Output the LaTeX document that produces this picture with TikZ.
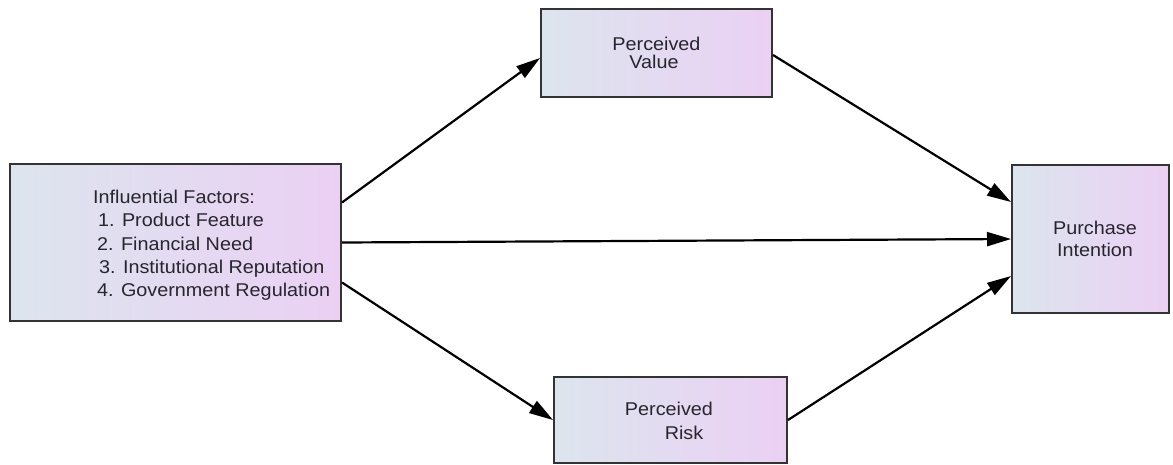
\documentclass[tikz,border=0pt]{standalone}
\usepackage{fontspec}
\newfontfamily\diagfont{Liberation Sans}[FakeStretch=1.07]
\usetikzlibrary{arrows.meta}
\definecolor{boxleft}{HTML}{DCE5EE}
\definecolor{boxright}{HTML}{EBD0F4}
\definecolor{edgegray}{HTML}{333333}
\definecolor{txtgray}{HTML}{26262C}
\tikzset{
  factorbox/.style={rectangle, draw=edgegray, line width=2pt, inner sep=0pt,
    left color=boxleft, right color=boxright},
  lbl/.style={inner sep=0pt, text=txtgray, font=\diagfont\fontsize{18.5}{20}\selectfont},
  link/.style={draw=black, line width=2.2pt, -{Triangle[length=24pt,width=14pt]}}
}
\begin{document}
\begin{tikzpicture}[x=1pt,y=-1pt]
\useasboundingbox (0,0) rectangle (1173,464);
% boxes
\node[factorbox, minimum width=331pt, minimum height=157pt] (L) at (175.5,242.5) {};
\node[factorbox, minimum width=231pt, minimum height=88pt] (PV) at (656.5,53) {};
\node[factorbox, minimum width=233pt, minimum height=86pt] (PR) at (670.5,420) {};
\node[factorbox, minimum width=157pt, minimum height=148pt] (PI) at (1090.5,239) {};
% left box text
\node[lbl, anchor=base west] (t1) at (93,203) {Influential Factors:};
\node[lbl, anchor=base west] (t2) at (98,226.5) {1. Product Feature};
\node[lbl, anchor=base west] (t3) at (97,250) {2. Financial Need};
\node[lbl, anchor=base west] (t4) at (99,273) {3. Institutional Reputation};
\node[lbl, anchor=base west] (t5) at (97,296) {4. Government Regulation};
% other texts
\node[lbl, anchor=base] (pv1) at (656.5,50) {Perceived};
\node[lbl, anchor=base] (pv2) at (654,68) {Value};
\node[lbl, anchor=base] (pr1) at (669,415) {Perceived};
\node[lbl, anchor=base] (pr2) at (684,439) {Risk};
\node[lbl, anchor=base] (pi1) at (1095,234) {Purchase};
\node[lbl, anchor=base] (pi2) at (1095,256) {Intention};
% connectors
\draw[link] ([yshift=40pt]L.east) -- ([yshift=-5pt]PV.west);
\draw[link] (L.east) -- (PI.west);
\draw[link] ([yshift=-40pt]L.east) -- (PR.west);
\draw[link] ([yshift=-2pt]PV.east) -- ([yshift=37pt]PI.west);
\draw[link] (PR.east) -- ([yshift=-37pt]PI.west);
\end{tikzpicture}
\end{document}
